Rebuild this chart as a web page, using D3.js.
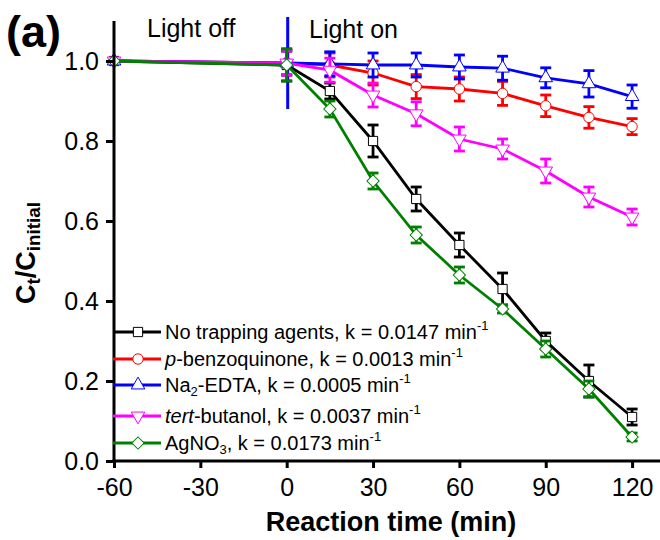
<!DOCTYPE html>
<html>
<head>
<meta charset="utf-8">
<script src="https://cdn.jsdelivr.net/npm/d3@7"></script>
<style>
body { margin: 0; background: #fff; }
text { font-family: "Liberation Sans", Arial, sans-serif; }
</style>
</head>
<body>
<svg id="chart" width="660" height="540"></svg>
<script>
// data
var times = [-60, 0, 15, 30, 45, 60, 75, 90, 105, 120];

var noTrap      = [1.0, 0.99, 0.925, 0.80, 0.655, 0.54, 0.43, 0.30, 0.20, 0.11];
var noTrapErr   = [0, 0.04, 0.02, 0.04, 0.03, 0.03, 0.04, 0.02, 0.04, 0.02];
var benzo       = [1.0, 0.995, 0.99, 0.97, 0.936, 0.93, 0.919, 0.888, 0.859, 0.836];
var benzoErr    = [0, 0.03, 0.03, 0.03, 0.03, 0.03, 0.03, 0.027, 0.027, 0.02];
var edta        = [1.0, 0.995, 0.993, 0.99, 0.99, 0.985, 0.982, 0.958, 0.943, 0.911];
var edtaErr     = [0, 0.03, 0.03, 0.03, 0.03, 0.03, 0.03, 0.025, 0.033, 0.029];
var butanol     = [1.0, 0.995, 0.977, 0.915, 0.868, 0.805, 0.78, 0.725, 0.66, 0.61];
var butanolErr  = [0, 0.03, 0.03, 0.03, 0.03, 0.03, 0.025, 0.03, 0.025, 0.02];
var agno3       = [1.0, 0.99, 0.88, 0.70, 0.565, 0.465, 0.38, 0.28, 0.18, 0.06];
var agno3Err    = [0, 0.04, 0.02, 0.02, 0.02, 0.02, 0.01, 0.02, 0.02, 0.01];

var seriesLabels = [
    "No trapping agents, k = 0.0147 min<sup>-1</sup>",
    "<i>p</i>-benzoquinone, k = 0.0013 min<sup>-1</sup>",
    "Na<sub>2</sub>-EDTA, k = 0.0005 min<sup>-1</sup>",
    "<i>tert</i>-butanol, k = 0.0037 min<sup>-1</sup>",
    "AgNO<sub>3</sub>, k = 0.0173 min<sup>-1</sup>"
];
var seriesColors = ["#000000", "#ff0000", "#0000ff", "#ff00ff", "#008000"];
var seriesShapes = ["square", "circle", "up", "down", "diamond"];
var seriesValues = [noTrap, benzo, edta, butanol, agno3];
var seriesErrors = [noTrapErr, benzoErr, edtaErr, butanolErr, agno3Err];

var xTicks = [-60, -30, 0, 30, 60, 90, 120];
var yTicks = [0.0, 0.2, 0.4, 0.6, 0.8, 1.0];

var svg = d3.select("#chart");
var x = d3.scaleLinear().domain([-60, 129.7]).range([114, 660]);
var y = d3.scaleLinear().domain([0, 1.1]).range([461, 21]);

function markerPath(shape) {
    if (shape == "square") return d3.symbol(d3.symbolSquare, 85)();
    if (shape == "circle") return d3.symbol(d3.symbolCircle, 85)();
    if (shape == "diamond") return d3.symbol(d3.symbolSquare, 75)();
    return d3.symbol(d3.symbolTriangle, 80)();
}
function markerRot(shape) {
    if (shape == "down") return " rotate(180)";
    if (shape == "diamond") return " rotate(45)";
    return "";
}

// light on marker
svg.append("line")
    .attr("x1", x(0) + 1).attr("x2", x(0) + 1)
    .attr("y1", y(1.11)).attr("y2", y(0.88))
    .attr("stroke", "#0000ff").attr("stroke-width", 3);

var series = seriesValues.map(function(vals, i) {
    return {
        color: seriesColors[i], shape: seriesShapes[i], label: seriesLabels[i],
        pts: vals.map(function(v, j) { return {t: times[j], v: v, e: seriesErrors[i][j]}; })
    };
});

var line = d3.line().x(function(d) { return x(d.t); }).y(function(d) { return y(d.v); });

series.forEach(function(s) {
    var g = svg.append("g");
    g.append("path").attr("d", line(s.pts))
        .attr("fill", "none").attr("stroke", s.color).attr("stroke-width", 2.8);

    var eb = g.selectAll(".eb").data(s.pts.filter(function(d) { return d.e > 0; }))
        .enter().append("g").attr("stroke", s.color).attr("stroke-width", 2.8);
    eb.append("line")
        .attr("x1", function(d) { return x(d.t); }).attr("x2", function(d) { return x(d.t); })
        .attr("y1", function(d) { return y(d.v - d.e); }).attr("y2", function(d) { return y(d.v + d.e); });
    [-1, 1].forEach(function(sg) {
        eb.append("line")
            .attr("x1", function(d) { return x(d.t) - 5.5; }).attr("x2", function(d) { return x(d.t) + 5.5; })
            .attr("y1", function(d) { return y(d.v + sg * d.e); }).attr("y2", function(d) { return y(d.v + sg * d.e); });
    });

    g.selectAll(".mk").data(s.pts).enter().append("path")
        .attr("d", markerPath(s.shape))
        .attr("transform", function(d) { return "translate(" + x(d.t) + "," + y(d.v) + ")" + markerRot(s.shape); })
        .attr("fill", "#fff").attr("stroke", s.color).attr("stroke-width", 1);
});

// axes
var xAxis = svg.append("g").attr("transform", "translate(0," + y(0) + ")")
    .call(d3.axisBottom(x).tickValues(xTicks).tickSize(7).tickPadding(10).tickFormat(function(d) { return String(d); }));
var yAxis = svg.append("g").attr("transform", "translate(" + x(-60) + ",0)")
    .call(d3.axisLeft(y).tickValues(yTicks).tickSize(8).tickPadding(7).tickFormat(d3.format(".1f")));
[xAxis, yAxis].forEach(function(a) {
    a.select(".domain").remove();
    a.selectAll(".tick line").attr("stroke-width", 3);
    a.selectAll("text").attr("font-size", 25).attr("font-family", "Liberation Sans, Arial, sans-serif").attr("fill", "#000");
});
svg.append("line").attr("x1", x(-60) - 1.5).attr("x2", 660).attr("y1", y(0)).attr("y2", y(0))
    .attr("stroke", "#000").attr("stroke-width", 3);
svg.append("line").attr("x1", x(-60)).attr("x2", x(-60)).attr("y1", y(0) + 1.5).attr("y2", y(1.1))
    .attr("stroke", "#000").attr("stroke-width", 3);

// rich text helper
function richText(sel, str, subScale) {
    var parts = str.split(/(<\/?(?:i|sub|sup)>)/);
    var mode = null;
    parts.forEach(function(p) {
        if (p == "<i>" || p == "<sub>" || p == "<sup>") { mode = p.slice(1, -1); return; }
        if (p == "</i>" || p == "</sub>" || p == "</sup>") { mode = null; return; }
        if (!p) return;
        var ts = sel.append("tspan").text(p);
        if (mode == "i") ts.attr("font-style", "italic");
        if (mode == "sub") ts.attr("font-size", (subScale || 0.65) + "em").attr("baseline-shift", "-28%");
        if (mode == "sup") ts.attr("font-size", "0.65em").attr("baseline-shift", "70%");
    });
}

// legend
var legRows = [332, 359, 385, 416, 443];
var leg = svg.append("g");
series.forEach(function(s, i) {
    var ly = legRows[i];
    leg.append("line").attr("x1", 113).attr("x2", 161).attr("y1", ly).attr("y2", ly)
        .attr("stroke", s.color).attr("stroke-width", 2.8);
    leg.append("path").attr("d", markerPath(s.shape))
        .attr("transform", "translate(138," + ly + ")" + markerRot(s.shape))
        .attr("fill", "#fff").attr("stroke", s.color).attr("stroke-width", 1);
    var t = leg.append("text").attr("x", 165).attr("y", ly + 7).attr("font-size", 20);
    richText(t, s.label);
});

// annotations
svg.append("text").attr("x", 147).attr("y", 37).attr("font-size", 25).text("Light off");
svg.append("text").attr("x", 309).attr("y", 38).attr("font-size", 25).text("Light on");
svg.append("text").attr("x", 6).attr("y", 47).attr("font-size", 45).attr("font-weight", "bold").text("(a)");

svg.append("text").attr("x", 391).attr("y", 531).attr("text-anchor", "middle")
    .attr("font-size", 27).attr("font-weight", "bold").text("Reaction time (min)");

var yl = svg.append("text").attr("transform", "translate(35,253) rotate(-90)")
    .attr("text-anchor", "middle").attr("font-size", 27).attr("font-weight", "bold");
richText(yl, "C<sub>t</sub>/C<sub>initial</sub>", 0.7);
</script>
</body>
</html>
